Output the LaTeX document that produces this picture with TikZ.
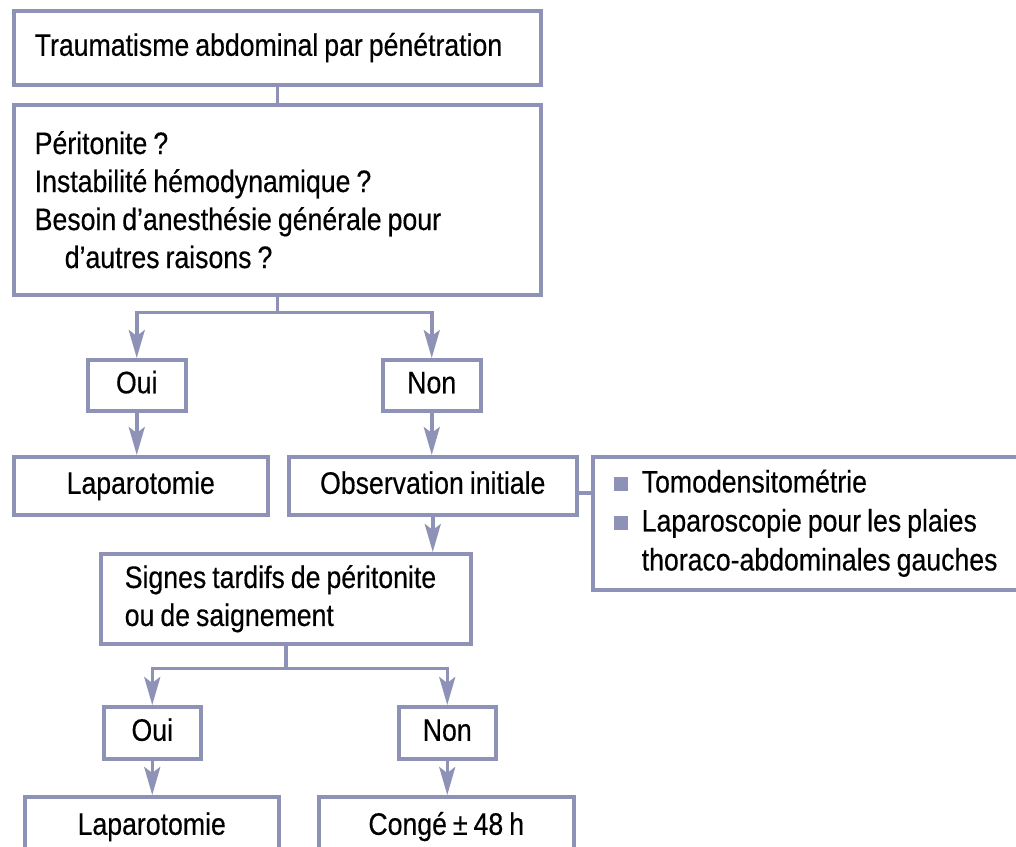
\documentclass[tikz,border=0pt]{standalone}
\usepackage{fontspec}
\setmainfont[FakeStretch=0.86, FakeBold=0.4]{Liberation Sans}
\usepackage{tikz}
\usetikzlibrary{arrows.meta}

\definecolor{trait}{RGB}{142,146,182}
\newcommand{\puce}{\textcolor{trait}{\rule[1pt]{14pt}{14pt}}\hspace{14pt}}
\newcommand{\police}[1]{\fontsize{31}{#1}\selectfont\hyphenpenalty=10000\relax}

\tikzset{
  boite/.style={draw=trait, line width=3.5pt, rectangle, inner ysep=0pt, anchor=north west,
    execute at begin node={\spaceskip=6pt\xspaceskip=6pt\relax}},
  gauche/.style={boite, align=left, inner xsep=21pt},
  centre/.style={boite, align=center, inner xsep=0pt, text height=22pt, text depth=6pt},
  lien/.style={draw=trait, line width=3.5pt},
  fleche/.style={lien, -{Stealth[length=28pt,width=16pt,inset=6pt]}}
}

\begin{document}
\begin{tikzpicture}[x=1pt, y=-1pt, font=\police{38}]
                \path[use as bounding box, fill=white] (0,0) rectangle (1016,846);

                % Question boxes
                \node[gauche, text width=485pt, minimum height=74pt, text height=22pt, text depth=6pt] (trauma) at (12,9) {Traumatisme abdominal par pénétration};
                \node[gauche, text width=485pt, minimum height=190pt] (questions) at (12,103)
                    {Péritonite ?\\Instabilité hémodynamique ?\\Besoin d’anesthésie générale pour\\\hspace*{30pt}d’autres raisons ?};

                % First answer
                \node[centre, minimum width=98pt, minimum height=51pt] (oui1) at (86,358) {Oui};
                \node[centre, minimum width=98pt, minimum height=51pt] (non1) at (381,358) {Non};
                \node[centre, minimum width=254pt, minimum height=58pt] (lap1) at (12,455) {Laparotomie};
                \node[centre, minimum width=288pt, minimum height=58pt] (obs) at (287,455) {Observation initiale};
                \node[gauche, text width=480pt, minimum height=133pt, font=\police{39}] (liste) at (591,455)
                    {\puce Tomodensitométrie\\\puce Laparoscopie pour les plaies\\\hspace*{28pt}thoraco-abdominales gauches};

                % Late signs
                \node[gauche, inner xsep=24pt, text width=322pt, minimum height=90pt] (signes) at (99,552)
                    {Signes tardifs de péritonite\\ou de saignement};
                \node[centre, minimum width=97pt, minimum height=52pt] (oui2) at (102,705) {Oui};
                \node[centre, minimum width=97pt, minimum height=52pt] (non2) at (397,705) {Non};
                \node[centre, minimum width=254pt, minimum height=60pt] (lap2) at (23,795) {Laparotomie};
                \node[centre, minimum width=255pt, minimum height=60pt] (conge) at (317,795) {Congé ± 48 h};

                % Connectors
                \draw[lien] (trauma) -- (questions);
                \draw[fleche] (questions.south) -- ++(0,16) -| (oui1);
                \draw[fleche] (questions.south) -- ++(0,16) -| (non1);
                \draw[fleche] (oui1.south) -- (oui1.south |- lap1.north);
                \draw[fleche] (non1.south) -- (non1.south |- obs.north);
                \draw[lien] ([yshift=-7pt]obs.east) -- ([yshift=-7pt]obs.east -| liste.west);
                \draw[fleche] (obs.south) -- (obs.south |- signes.north);
                \draw[fleche] (signes.south) -- ++(0,23) -| (oui2);
                \draw[fleche] (signes.south) -- ++(0,23) -| (non2);
                \draw[fleche] (oui2.south) -- (oui2.south |- lap2.north);
                \draw[fleche] (non2.south) -- (non2.south |- conge.north);
            \end{tikzpicture}
\end{document}
